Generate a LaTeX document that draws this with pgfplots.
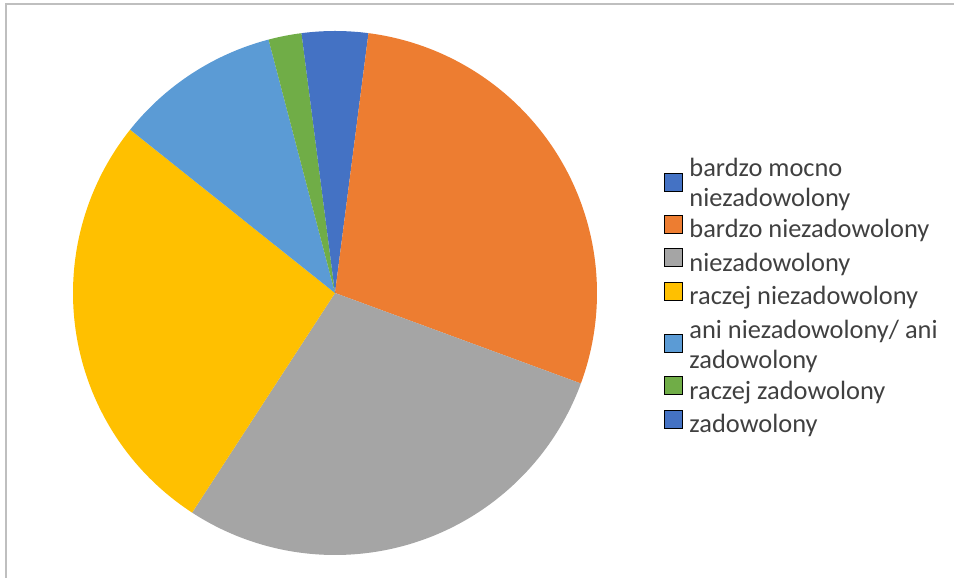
\documentclass[border=0pt]{standalone}
\usepackage{pgfplots}
\pgfplotsset{compat=1.18}
\usepackage{pgfplotstable}
\usepackage{fontspec}
\setmainfont{Carlito}
\definecolor{c0}{HTML}{4472C4}
\definecolor{c1}{HTML}{ED7D31}
\definecolor{c2}{HTML}{A5A5A5}
\definecolor{c3}{HTML}{FFC000}
\definecolor{c4}{HTML}{5B9BD5}
\definecolor{c5}{HTML}{70AD47}
\definecolor{c6}{HTML}{4472C4}
\definecolor{txt}{HTML}{404040}
\definecolor{frame}{HTML}{BFBFBF}
\pgfplotstableread{
value
1
14
14
13
5
1
1
}\piedata
\newcommand\two[2]{\begin{tabular}[t]{@{}l@{}}#1\\#2\end{tabular}}
\begin{document}
\begin{tikzpicture}
\path[use as bounding box] (0,0) rectangle (954bp,578bp);
\draw[frame, line width=1.5bp] (6bp,0) -- (6bp,574bp) -- (954bp,574bp);
% cumulative angles (clockwise from 12 o'clock)
\gdef\total{0}
\foreach \i in {0,...,6}{%
  \pgfplotstablegetelem{\i}{value}\of\piedata
  \pgfmathsetmacro\t{\total+\pgfplotsretval}%
  \xdef\total{\t}}
\gdef\cum{0}
\foreach \i in {0,...,6}{%
  \pgfplotstablegetelem{\i}{value}\of\piedata
  \pgfmathsetmacro\s{90-360*(\cum/\total)}%
  \pgfmathsetmacro\c{\cum+\pgfplotsretval}%
  \xdef\cum{\c}%
  \pgfmathsetmacro\e{90-360*(\cum/\total)}%
  \expandafter\xdef\csname sa\i\endcsname{\s}%
  \expandafter\xdef\csname ea\i\endcsname{\e}}
\begin{axis}[
  at={(335bp,285bp)}, anchor=center,
  x=262bp, y=262bp,
  xmin=-1, xmax=1, ymin=-1, ymax=1,
  hide axis, clip=false,
  legend image code/.code={\fill[#1] (0bp,-7bp) rectangle (18bp,11bp);},
  twoimg/.style={legend image code/.code={\fill[##1] (0bp,-12bp) rectangle (18bp,6bp);}},
  legend style={draw=none, fill=none, at={(1.128,0.5)}, anchor=west,
    inner sep=0pt, outer sep=0pt, row sep=3bp,
    font=\fontsize{26.5}{30}\selectfont, text=txt,
    cells={anchor=west, inner sep=0pt, text height=25bp, text depth=8bp},
    /tikz/every odd column/.append style={column sep=5bp}},
]
\pgfplotsinvokeforeach{0,...,6}{%
  \edef\tmp{\noexpand\fill[c#1] (axis cs:0,0) -- ++(\csname sa#1\endcsname:262bp)
    arc[start angle=\csname sa#1\endcsname, end angle=\csname ea#1\endcsname, radius=262bp] -- cycle;}%
  \tmp
}
\addlegendimage{twoimg, fill=c0}
\addlegendentry[text depth=29bp]{\two{bardzo mocno}{niezadowolony}}
\addlegendimage{fill=c1}
\addlegendentry{bardzo niezadowolony}
\addlegendimage{fill=c2}
\addlegendentry{niezadowolony}
\addlegendimage{fill=c3}
\addlegendentry{raczej niezadowolony}
\addlegendimage{twoimg, fill=c4}
\addlegendentry[text depth=29bp]{\two{ani niezadowolony/ ani}{zadowolony}}
\addlegendimage{fill=c5}
\addlegendentry{raczej zadowolony}
\addlegendimage{fill=c6}
\addlegendentry{zadowolony}
\end{axis}
\end{tikzpicture}
\end{document}
